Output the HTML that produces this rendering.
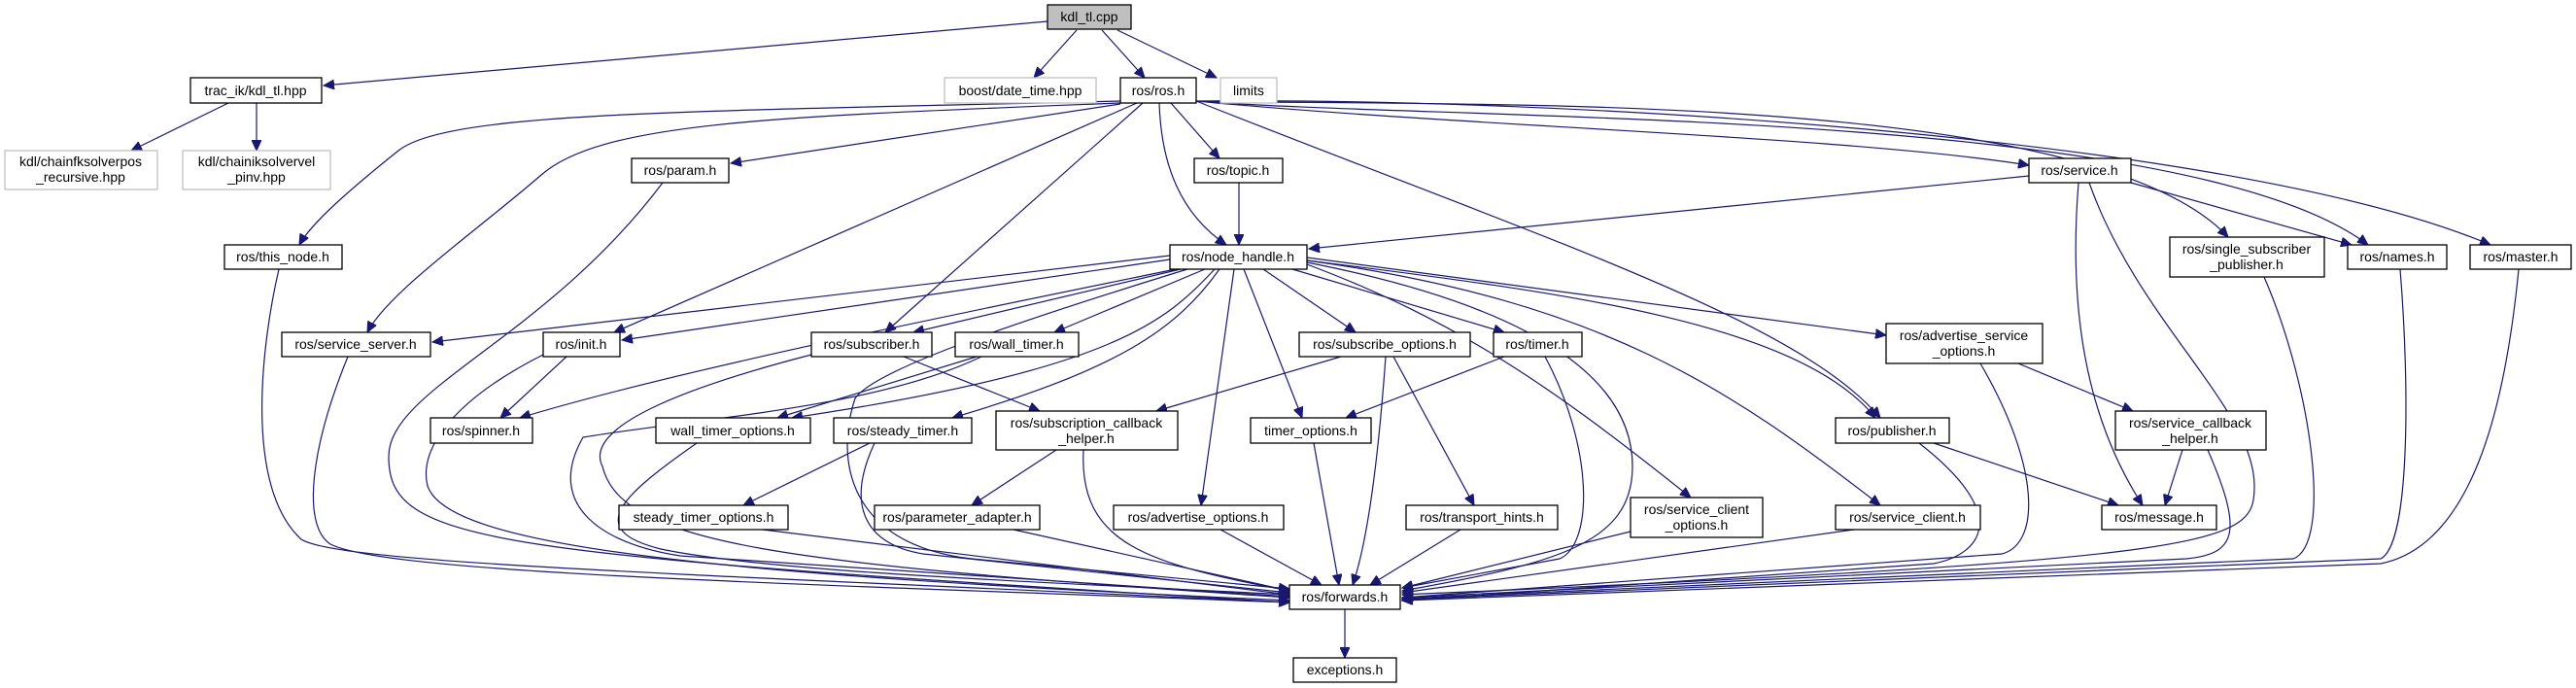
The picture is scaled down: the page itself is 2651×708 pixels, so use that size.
<!DOCTYPE html>
<html><head><meta charset="utf-8"><style>
html,body{margin:0;padding:0;background:#fff}
svg{display:block}
text{font-family:"Liberation Sans",sans-serif;font-size:14px;fill:#000;text-anchor:middle}
.n{fill:#fff;stroke:#000;stroke-width:1.3}
.g{fill:#fff;stroke:#bfbfbf;stroke-width:1.3}
.e{fill:none;stroke:#191970;stroke-width:1.2;marker-end:url(#a)}
</style></head><body>
<svg width="2651" height="708" viewBox="0 0 2651 708" xmlns="http://www.w3.org/2000/svg">
<defs><marker id="a" markerUnits="userSpaceOnUse" markerWidth="12" markerHeight="10" refX="11" refY="5" orient="auto"><path d="M0,0 L11,5 L0,10 z" fill="#191970" stroke="#191970"/></marker></defs>
<g>
<path class="e" d="M1078,22 L333,88"/>
<path class="e" d="M1108,31 L1064,80"/>
<path class="e" d="M1134,31 L1178,80"/>
<path class="e" d="M1150,31 L1252,80"/>
<path class="e" d="M235,106 L135,155"/>
<path class="e" d="M264,106 L264,155"/>
<path class="e" d="M1153,104 C700,115 460,115 410,155 S320,230 308,252"/>
<path class="e" d="M1153,106 C800,120 620,125 557,180 S400,300 378,342"/>
<path class="e" d="M1153,107 L752,168"/>
<path class="e" d="M1170,106 L632,342"/>
<path class="e" d="M1176,106 L911,342"/>
<path class="e" d="M1193,106 C1195,170 1215,220 1262,252"/>
<path class="e" d="M1205,106 L1255,163"/>
<path class="e" d="M1231,104 C1600,250 1850,330 1935,430"/>
<path class="e" d="M1231,104 C1500,130 1900,140 2088,170"/>
<path class="e" d="M1231,104 C1500,110 2150,90 2293,244"/>
<path class="e" d="M1231,104 C1500,125 2250,110 2437,252"/>
<path class="e" d="M1231,104 C1600,100 2300,140 2563,252"/>
<path class="e" d="M1275,188 L1275,252"/>
<path class="e" d="M2088,181 L1347,256"/>
<path class="e" d="M2193,188 L2420,252"/>
<path class="e" d="M2139,188 C2130,300 2140,420 2205,520"/>
<path class="e" d="M2150,188 C2200,330 2320,420 2320,500 C2320,560 2300,575 1443,612"/>
<path class="e" d="M682,188 C560,350 400,400 400,470 C400,560 500,570 1327,620"/>
<path class="e" d="M287,277 C270,350 250,500 310,555 C350,580 700,590 1327,620"/>
<path class="e" d="M358,367 C320,460 310,540 340,560 C400,590 800,600 1327,620"/>
<path class="e" d="M583,367 L515,430"/>
<path class="e" d="M559,365 C470,410 430,460 440,500 C460,560 700,590 1327,618"/>
<path class="e" d="M1210,277 C1000,320 700,380 535,430"/>
<path class="e" d="M1204,263 L445,352"/>
<path class="e" d="M1204,267 L640,350"/>
<path class="e" d="M1215,277 L940,342"/>
<path class="e" d="M1240,277 L1085,342"/>
<path class="e" d="M1250,277 C1200,330 1150,380 815,430"/>
<path class="e" d="M1255,277 C1210,340 1150,380 980,430"/>
<path class="e" d="M1270,277 L1236,520"/>
<path class="e" d="M1280,277 L1340,430"/>
<path class="e" d="M1300,277 L1395,342"/>
<path class="e" d="M1330,277 L1548,342"/>
<path class="e" d="M1345,272 C1500,330 1600,400 1740,512"/>
<path class="e" d="M1345,270 C1600,320 1680,400 1680,480 C1680,560 1600,580 1443,608"/>
<path class="e" d="M1345,268 C1600,300 1850,330 1930,430"/>
<path class="e" d="M1345,265 L1941,345"/>
<path class="e" d="M1345,268 C1650,310 1780,400 1935,520"/>
<path class="e" d="M1222,277 C1050,330 900,380 880,410 C860,470 870,560 1000,575 L1327,606"/>
<path class="e" d="M930,367 L1070,423"/>
<path class="e" d="M835,365 C700,400 600,440 620,480 C640,560 800,580 1327,615"/>
<path class="e" d="M1005,367 L800,430"/>
<path class="e" d="M1010,367 C900,420 720,430 600,450 C560,520 620,560 700,572 L1327,614"/>
<path class="e" d="M1380,367 L1190,423"/>
<path class="e" d="M1426,367 C1420,450 1410,550 1392,602"/>
<path class="e" d="M1434,367 L1517,520"/>
<path class="e" d="M1548,367 L1385,430"/>
<path class="e" d="M1590,367 C1640,460 1640,560 1605,575 L1443,605"/>
<path class="e" d="M2077,374 L2195,423"/>
<path class="e" d="M2038,374 C2100,480 2100,560 2060,570 L1443,615"/>
<path class="e" d="M717,456 C640,510 600,545 680,565 C800,590 1100,600 1327,612"/>
<path class="e" d="M895,456 L765,520"/>
<path class="e" d="M900,456 C870,520 890,560 950,570 L1327,610"/>
<path class="e" d="M1087,463 L1000,520"/>
<path class="e" d="M1115,463 C1110,560 1180,580 1327,608"/>
<path class="e" d="M1352,456 L1378,602"/>
<path class="e" d="M1990,456 L2180,520"/>
<path class="e" d="M1975,456 C2070,530 2040,570 1990,580 L1443,618"/>
<path class="e" d="M2246,463 L2228,520"/>
<path class="e" d="M2272,463 C2310,550 2300,570 2250,575 L1443,615"/>
<path class="e" d="M785,545 L1327,612"/>
<path class="e" d="M1043,545 L1327,608"/>
<path class="e" d="M1256,545 L1360,602"/>
<path class="e" d="M1503,545 L1410,602"/>
<path class="e" d="M1678,547 L1443,605"/>
<path class="e" d="M1908,545 L1443,610"/>
<path class="e" d="M2330,285 C2380,400 2400,560 2360,575 L1443,616"/>
<path class="e" d="M2470,277 C2480,400 2480,560 2450,575 L1443,617"/>
<path class="e" d="M2592,277 C2580,400 2550,560 2450,580 L1443,618"/>
<path class="e" d="M1384,627 L1384,677"/>
</g>
<g>
<rect x="1078" y="5" width="86" height="25" fill="#bfbfbf" stroke="#000" stroke-width="1.3"/><text x="1121" y="22">kdl_tl.cpp</text>
<rect class="n" x="196" y="80" width="135" height="26"/><text x="263" y="98">trac_ik/kdl_tl.hpp</text>
<rect class="g" x="972" y="80" width="156" height="26"/><text x="1050" y="98">boost/date_time.hpp</text>
<rect class="n" x="1153" y="80" width="78" height="26"/><text x="1192" y="98">ros/ros.h</text>
<rect class="g" x="1256" y="80" width="58" height="26"/><text x="1285" y="98">limits</text>
<rect class="g" x="5" y="155" width="157" height="40"/><text x="83" y="171">kdl/chainfksolverpos</text><text x="83" y="187">_recursive.hpp</text>
<rect class="g" x="188" y="155" width="152" height="40"/><text x="264" y="171">kdl/chainiksolvervel</text><text x="264" y="187">_pinv.hpp</text>
<rect class="n" x="650" y="163" width="100" height="25"/><text x="700" y="180">ros/param.h</text>
<rect class="n" x="1229" y="163" width="91" height="25"/><text x="1274" y="180">ros/topic.h</text>
<rect class="n" x="2088" y="163" width="105" height="25"/><text x="2140" y="180">ros/service.h</text>
<rect class="n" x="231" y="252" width="121" height="25"/><text x="291" y="269">ros/this_node.h</text>
<rect class="n" x="1204" y="252" width="141" height="25"/><text x="1274" y="269">ros/node_handle.h</text>
<rect class="n" x="2233" y="244" width="159" height="41"/><text x="2312" y="261">ros/single_subscriber</text><text x="2312" y="277">_publisher.h</text>
<rect class="n" x="2416" y="252" width="102" height="25"/><text x="2467" y="269">ros/names.h</text>
<rect class="n" x="2542" y="252" width="104" height="25"/><text x="2594" y="269">ros/master.h</text>
<rect class="n" x="290" y="342" width="153" height="25"/><text x="366" y="359">ros/service_server.h</text>
<rect class="n" x="559" y="342" width="79" height="25"/><text x="598" y="359">ros/init.h</text>
<rect class="n" x="835" y="342" width="124" height="25"/><text x="897" y="359">ros/subscriber.h</text>
<rect class="n" x="983" y="342" width="127" height="25"/><text x="1046" y="359">ros/wall_timer.h</text>
<rect class="n" x="1337" y="342" width="176" height="25"/><text x="1425" y="359">ros/subscribe_options.h</text>
<rect class="n" x="1537" y="342" width="91" height="25"/><text x="1582" y="359">ros/timer.h</text>
<rect class="n" x="1941" y="333" width="161" height="41"/><text x="2021" y="350">ros/advertise_service</text><text x="2021" y="366">_options.h</text>
<rect class="n" x="443" y="430" width="105" height="26"/><text x="495" y="448">ros/spinner.h</text>
<rect class="n" x="675" y="430" width="159" height="26"/><text x="754" y="448">wall_timer_options.h</text>
<rect class="n" x="858" y="430" width="142" height="26"/><text x="929" y="448">ros/steady_timer.h</text>
<rect class="n" x="1025" y="423" width="187" height="40"/><text x="1118" y="440">ros/subscription_callback</text><text x="1118" y="456">_helper.h</text>
<rect class="n" x="1287" y="430" width="124" height="26"/><text x="1349" y="448">timer_options.h</text>
<rect class="n" x="1889" y="430" width="117" height="26"/><text x="1947" y="448">ros/publisher.h</text>
<rect class="n" x="2177" y="423" width="155" height="40"/><text x="2254" y="440">ros/service_callback</text><text x="2254" y="456">_helper.h</text>
<rect class="n" x="637" y="520" width="174" height="25"/><text x="724" y="537">steady_timer_options.h</text>
<rect class="n" x="900" y="520" width="170" height="25"/><text x="985" y="537">ros/parameter_adapter.h</text>
<rect class="n" x="1146" y="520" width="175" height="25"/><text x="1233" y="537">ros/advertise_options.h</text>
<rect class="n" x="1447" y="520" width="156" height="25"/><text x="1525" y="537">ros/transport_hints.h</text>
<rect class="n" x="1678" y="512" width="136" height="41"/><text x="1746" y="529">ros/service_client</text><text x="1746" y="545">_options.h</text>
<rect class="n" x="1889" y="520" width="149" height="25"/><text x="1963" y="537">ros/service_client.h</text>
<rect class="n" x="2163" y="520" width="118" height="25"/><text x="2222" y="537">ros/message.h</text>
<rect class="n" x="1327" y="602" width="114" height="25"/><text x="1384" y="619">ros/forwards.h</text>
<rect class="n" x="1331" y="677" width="106" height="25"/><text x="1384" y="694">exceptions.h</text>
</g>
</svg>
</body></html>
